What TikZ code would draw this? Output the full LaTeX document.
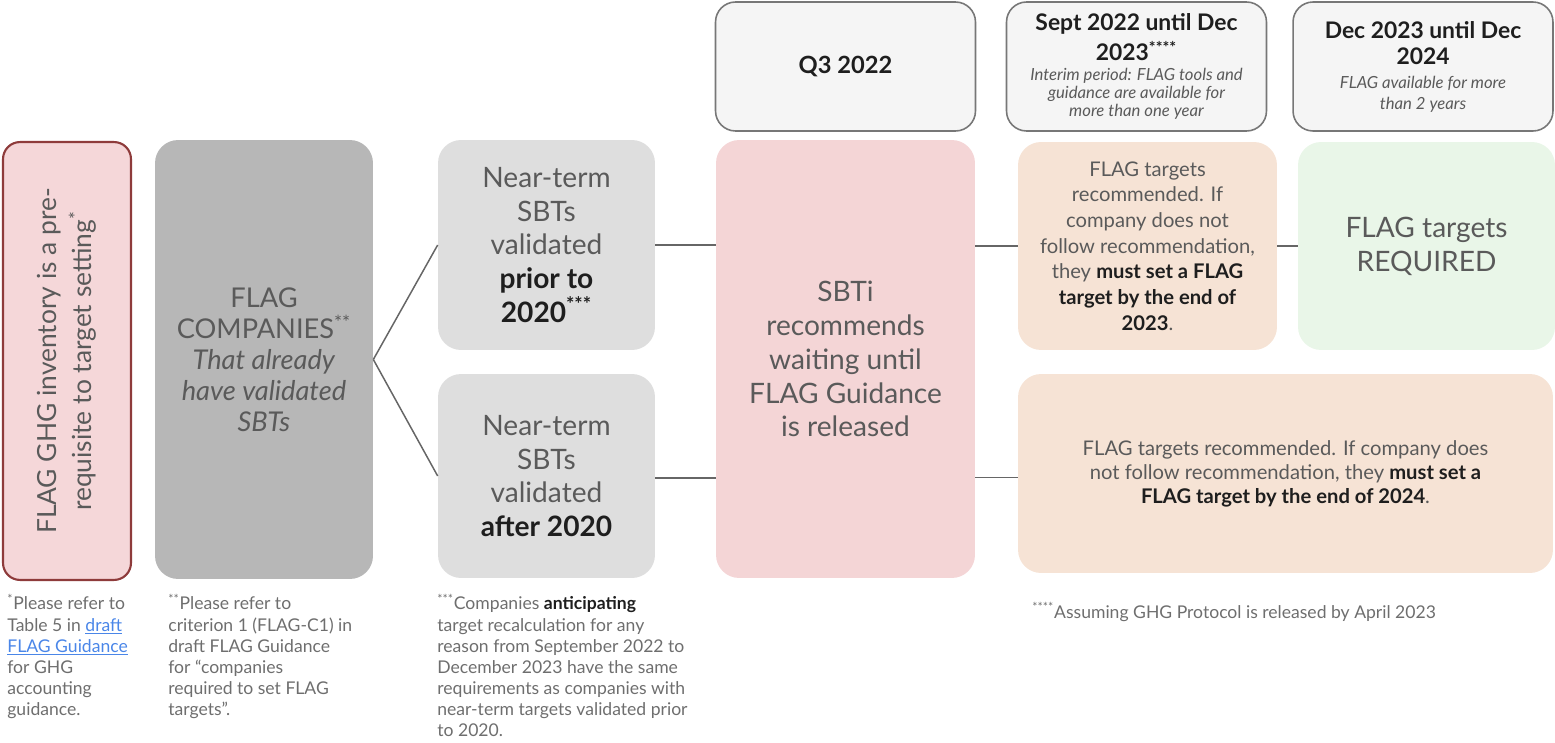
\documentclass[tikz,border=0pt]{standalone}
\usepackage{fontspec}
\setmainfont{Lato}
\usepackage{xcolor}
\usetikzlibrary{positioning,calc}

\definecolor{invfill}{HTML}{F5D7D9}
\definecolor{invdraw}{HTML}{8E3B3B}
\definecolor{compfill}{HTML}{B7B7B7}
\definecolor{nearfill}{HTML}{DEDEDE}
\definecolor{sbtifill}{HTML}{F4D5D6}
\definecolor{headfill}{HTML}{F5F5F5}
\definecolor{headdraw}{HTML}{777777}
\definecolor{recfill}{HTML}{F6E3D5}
\definecolor{reqfill}{HTML}{E9F6E8}
\definecolor{txtgray}{HTML}{5A5A5A}
\definecolor{notegray}{HTML}{6E6E6E}
\definecolor{txtdark}{HTML}{1E1E1E}
\definecolor{linkblue}{HTML}{4A86E8}
\definecolor{linegray}{HTML}{666666}

\newcommand{\dk}[1]{\textcolor{txtdark}{\textbf{#1}}}
\newcommand{\hbg}[1]{{\fontsize{13}{15.3}\selectfont\upshape\bfseries\color{txtdark}#1}}
\newcommand{\hsm}[1]{{\itshape #1}}

\begin{document}
\begin{tikzpicture}[
  x=0.02cm, y=-0.02cm,
  box/.style={rectangle, rounded corners=0.46cm, draw=none, align=center,
              text=txtgray, inner sep=2pt},
  big/.style={font=\fontsize{16}{19.3}\selectfont},
  head/.style={rectangle, rounded corners=0.4cm, draw=headdraw, line width=0.9pt,
               fill=headfill, align=center, minimum width=5.2cm,
               minimum height=2.58cm, text=txtgray,
               font=\fontsize{9.5}{10.3}\selectfont},
  note/.style={align=left, anchor=north west, text=notegray, inner sep=0pt,
               font=\fontsize{10}{12}\selectfont},
  link/.style={linegray, line width=0.85pt}
]
\useasboundingbox (0,0) rectangle (1555,743);

% left column
\node[box, draw=invdraw, line width=1.2pt, fill=invfill, rounded corners=0.34cm,
      minimum width=2.56cm, minimum height=8.76cm] (inv) at (67,361) {};
\node[rotate=90, align=center, text=txtgray,
      font=\fontsize{15}{20}\selectfont] (invtxt) at (inv.center)
  {FLAG GHG inventory is a pre-\\requisite to target setting\textsuperscript{*}};
\node[box, fill=compfill, minimum width=4.36cm, minimum height=8.78cm,
      font=\fontsize{15.5}{17.6}\selectfont] (comp) at (264,359.5)
  {FLAG\\COMPANIES\textsuperscript{**}\\\textit{That already}\\\textit{have validated}\\\textit{SBTs}};

% near-term boxes
\node[box, big, fill=nearfill, minimum width=4.34cm, minimum height=4.2cm] (pre) at (546.5,245)
  {Near-term\\SBTs\\validated\\\dk{prior to}\\\dk{2020\textsuperscript{***}}};
\node[box, big, fill=nearfill, minimum width=4.34cm, minimum height=4.08cm] (post) at (546.5,476)
  {Near-term\\SBTs\\validated\\\dk{after 2020}};

% timeline headers
\node[head] (q3) at (845.5,66.5) {\hbg{\fontsize{13.5}{15.3}\selectfont Q3 2022}};
\node[head] (interim) at (1136.5,66.5)
  {\hbg{Sept 2022 until Dec}\\[3pt]\hbg{2023\textsuperscript{****}}\\[1pt]
   \hsm{Interim period: FLAG tools and}\\\hsm{guidance are available for}\\
   \hsm{more than one year}};
\node[head] (later) at (1423,66.5)
  {\hbg{Dec 2023 until Dec}\\[5pt]\hbg{2024}\\[3pt]
   \hsm{FLAG available for more}\\[1.5pt]\hsm{than 2 years}};

% outcomes
\node[box, big, fill=sbtifill, minimum width=5.18cm, minimum height=8.76cm] (sbti) at (845.5,359)
  {SBTi\\recommends\\waiting until\\FLAG Guidance\\is released};
\node[box, fill=recfill, minimum width=5.18cm, minimum height=4.16cm,
      font=\fontsize{11.5}{14.6}\selectfont] (rec) at (1147.5,246)
  {FLAG targets\\recommended. If\\company does not\\follow recommendation,\\
   they \dk{must set a FLAG}\\\dk{target by the end of}\\\dk{2023}.};
\node[box, big, fill=reqfill, minimum width=5.14cm, minimum height=4.16cm] (req) at (1426.5,246)
  {FLAG targets\\REQUIRED};
\node[box, fill=recfill, minimum width=10.7cm, minimum height=3.98cm,
      font=\fontsize{11.5}{13.6}\selectfont] (rec2) at (1285.5,473.5)
  {FLAG targets recommended. If company does\\
   not follow recommendation, they \dk{must set a}\\
   \dk{FLAG target by the end of 2024}.};

% connectors
\draw[link] (comp.east) -- (pre.west);
\draw[link] (comp.east) -- (post.west);
\draw[link] (pre.east) -- (pre.east -| sbti.west);
\draw[link] ($(post.east)+(0,2)$) -- ($(post.east -| sbti.west)+(0,2)$);
\draw[link] (sbti.east |- rec.west) -- (rec.west);
\draw[link] ($(sbti.east |- rec2.west)+(0,4)$) -- ($(rec2.west)+(0,4)$);
\draw[link] (rec.east) -- (req.west);

% footnotes
\node[note] (fn1) at (7,594)
  {\textsuperscript{*}Please refer to\\Table 5 in \textcolor{linkblue}{\underline{draft}}\\
   \textcolor{linkblue}{\underline{FLAG Guidance}}\\for GHG\\accounting\\guidance.};
\node[note] (fn2) at (168,594)
  {\textsuperscript{**}Please refer to\\criterion 1 (FLAG-C1) in\\draft FLAG Guidance\\
   for ``companies\\required to set FLAG\\targets''.};
\node[note] (fn3) at (437,594)
  {\textsuperscript{***}Companies \dk{anticipating}\\target recalculation for any\\
   reason from September 2022 to\\December 2023 have the same\\
   requirements as companies with\\near-term targets validated prior\\to 2020.};
\node[note, anchor=west] (fn4) at (1032,612)
  {\textsuperscript{****}Assuming GHG Protocol is released by April 2023};
\end{tikzpicture}
\end{document}
